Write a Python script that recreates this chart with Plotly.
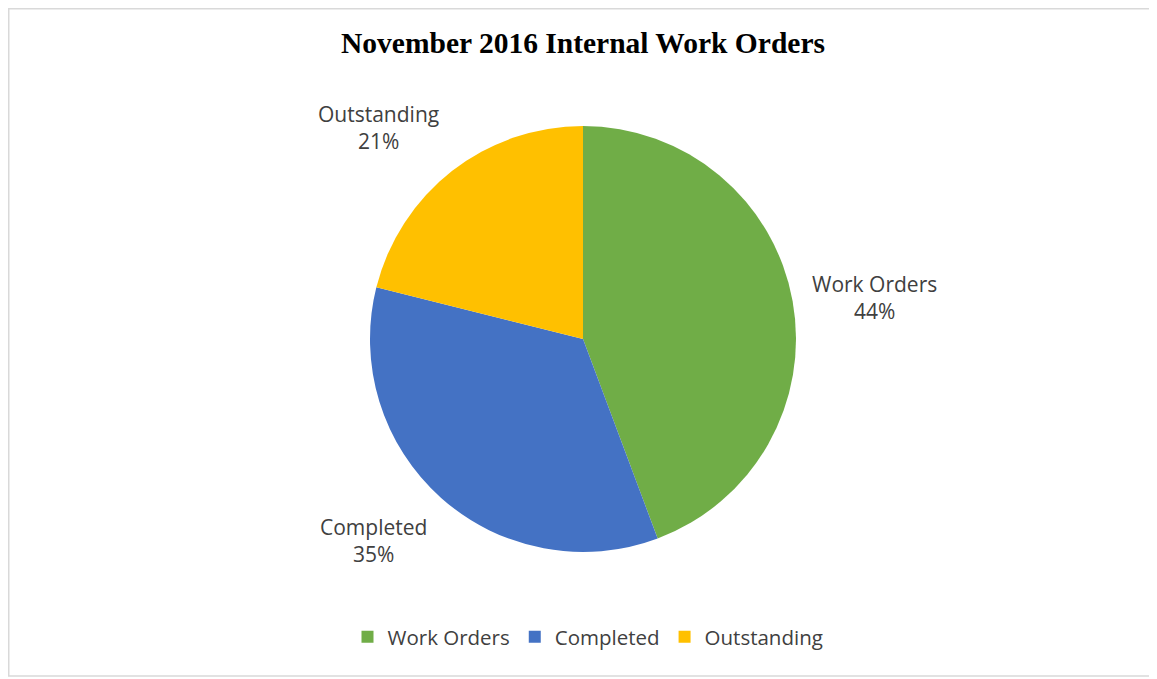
import math
import plotly.graph_objects as go

categories = ["Work Orders", "Completed", "Outstanding"]
values = [44.3, 34.6, 21.1]
colors = ["#70AD47", "#4472C4", "#FFC000"]
title_text = "November 2016 Internal Work Orders"

# The page body adds an 8px margin; lay out in figure pixels accordingly
OFF = 8
W, H = 1157 - OFF, 679 - OFF
cx, cy, r = 583 - OFF, 339 - OFF, 213  # pie centre/radius in figure pixels


def px(x):
    return x / W


def py(y):
    return 1 - y / H


fig = go.Figure()
fig.add_trace(go.Pie(
    labels=categories,
    values=values,
    sort=False,
    direction="clockwise",
    rotation=0,
    marker=dict(colors=colors, line=dict(width=0)),
    textinfo="none",
    hoverinfo="label+percent",
    domain=dict(x=[px(cx - r), px(cx + r)], y=[py(cy + r), py(cy - r)]),
    showlegend=True,
))

label_font = dict(family="Open Sans", size=21, color="#404040")

# Data labels outside each slice, anchored near the slice's mid-angle
total = sum(values)
annotations = []
start = 0.0
for lab, v in zip(categories, values):
    frac = v / total
    mid = (start + frac / 2) * 2 * math.pi
    start += frac
    s, c = math.sin(mid), math.cos(mid)
    rr = r * 1.085
    ax = cx + rr * s
    ay = cy - rr * c
    xa = "center" if abs(s) < 0.4 else ("left" if s > 0 else "right")
    ya = "middle" if abs(c) < 0.4 else ("bottom" if c > 0 else "top")
    annotations.append(dict(
        x=px(ax), y=py(ay), xref="paper", yref="paper",
        text=f"{lab}<br>{round(frac * 100)}%",
        showarrow=False, xanchor=xa, yanchor=ya, align="center",
        font=label_font,
    ))

annotations.append(dict(
    x=px(583 - OFF), y=py(43 - OFF), xref="paper", yref="paper",
    text=f"<b>{title_text}</b>", showarrow=False, xanchor="center", yanchor="middle",
    font=dict(family="Liberation Serif", size=29.5, color="#000000"),
))

fig.update_layout(
    width=W, height=H,
    margin=dict(l=0, r=0, t=0, b=0),
    paper_bgcolor="white",
    plot_bgcolor="white",
    annotations=annotations,
    legend=dict(
        orientation="h", x=px(588 - OFF), y=py(637 - OFF), xanchor="center", yanchor="middle",
        font=dict(family="Open Sans", size=20.5, color="#404040"),
    ),
    shapes=[dict(
        type="rect", xref="paper", yref="paper",
        x0=px(0.75), x1=1.01, y0=py(676 - OFF), y1=py(0.75),
        line=dict(color="#d9d9d9", width=1.5), fillcolor="rgba(0,0,0,0)",
    )],
)

fig.write_html("out.html")
